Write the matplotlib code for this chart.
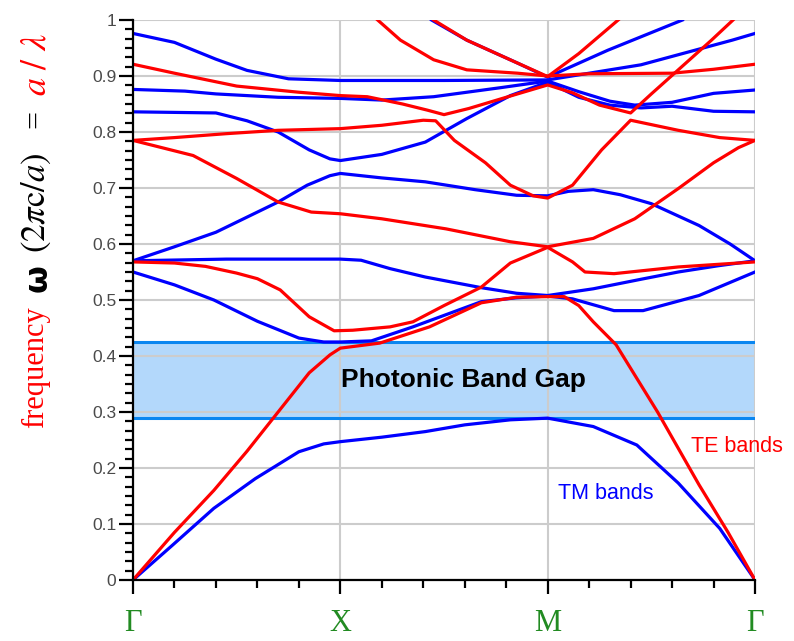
import matplotlib
matplotlib.use('Agg')
import matplotlib.pyplot as plt
from matplotlib.ticker import MultipleLocator, FuncFormatter

plt.rcParams['mathtext.fontset'] = 'stix'

# k path: Gamma = 0, X = 1, M = 2, Gamma = 3
sym_pos = [0, 1, 2, 3]
sym_labels = ['Γ', 'X', 'M', 'Γ']

# TM bands (blue)
tm1_k = [0, 0.19, 0.39, 0.59, 0.8, 0.92, 1.0, 1.2, 1.41, 1.6, 1.82, 2.0, 2.22, 2.43, 2.63, 2.83, 3.0]
tm1_w = [0, 0.062, 0.128, 0.181, 0.229, 0.243, 0.247, 0.255, 0.265, 0.277, 0.286, 0.289, 0.274, 0.241, 0.173, 0.092, 0]
tm2_k = [0, 0.2, 0.39, 0.6, 0.8, 0.92, 1.0, 1.15, 1.35, 1.68, 1.85, 2.0, 2.12, 2.32, 2.46, 2.73, 3.0]
tm2_w = [0.55, 0.527, 0.50, 0.462, 0.432, 0.425, 0.425, 0.427, 0.452, 0.497, 0.504, 0.507, 0.502, 0.481, 0.481, 0.508, 0.55]
tm3_k = [0, 0.45, 1.0, 1.1, 1.24, 1.41, 1.68, 1.85, 2.0, 2.22, 2.45, 2.63, 2.82, 3.0]
tm3_w = [0.57, 0.573, 0.573, 0.571, 0.556, 0.541, 0.522, 0.512, 0.508, 0.52, 0.537, 0.55, 0.561, 0.57]
tm4_k = [0, 0.2, 0.4, 0.55, 0.7, 0.84, 0.95, 1.0, 1.2, 1.41, 1.65, 1.85, 2.0, 2.1, 2.22, 2.35, 2.5, 2.73, 2.88, 3.0]
tm4_w = [0.57, 0.595, 0.621, 0.648, 0.675, 0.705, 0.722, 0.726, 0.718, 0.711, 0.697, 0.687, 0.686, 0.694, 0.697, 0.688, 0.672, 0.633, 0.6, 0.57]
tm5_k = [0, 0.4, 0.55, 0.7, 0.85, 0.95, 1.0, 1.2, 1.41, 1.61, 1.82, 2.0, 2.15, 2.3, 2.45, 2.6, 2.8, 3.0]
tm5_w = [0.836, 0.834, 0.82, 0.80, 0.768, 0.752, 0.749, 0.76, 0.782, 0.824, 0.865, 0.889, 0.862, 0.848, 0.843, 0.846, 0.837, 0.836]
tm6_k = [0, 0.25, 0.4, 0.7, 1.0, 1.2, 1.45, 1.77, 2.0, 2.15, 2.3, 2.42, 2.6, 2.8, 3.0]
tm6_w = [0.876, 0.873, 0.868, 0.862, 0.86, 0.857, 0.863, 0.879, 0.891, 0.872, 0.855, 0.848, 0.853, 0.869, 0.875]
tm7_k = [0, 0.2, 0.4, 0.55, 0.75, 1.0, 1.5, 2.0, 2.2, 2.45, 2.7, 2.89, 3.0]
tm7_w = [0.976, 0.96, 0.93, 0.91, 0.895, 0.892, 0.892, 0.893, 0.905, 0.92, 0.945, 0.964, 0.976]
tm8_k = [1.44, 1.61, 1.855, 2.0, 2.29, 2.65]
tm8_w = [1.0, 0.964, 0.923, 0.898, 0.946, 1.0]

# TE bands (red)
te1_k = [0, 0.2, 0.39, 0.55, 0.7, 0.85, 0.95, 1.0, 1.19, 1.43, 1.68, 1.85, 2.0, 2.08, 2.15, 2.22, 2.33, 2.53, 2.73, 2.87, 3.0]
te1_w = [0, 0.085, 0.16, 0.23, 0.30, 0.37, 0.402, 0.414, 0.423, 0.452, 0.495, 0.505, 0.506, 0.506, 0.49, 0.461, 0.42, 0.30, 0.17, 0.085, 0]
te2_k = [0, 0.2, 0.35, 0.5, 0.6, 0.71, 0.85, 0.97, 1.06, 1.24, 1.35, 1.5, 1.68, 1.82, 2.0, 2.12, 2.18, 2.32, 2.63, 3.0]
te2_w = [0.568, 0.566, 0.56, 0.548, 0.538, 0.518, 0.47, 0.445, 0.446, 0.452, 0.461, 0.49, 0.523, 0.566, 0.594, 0.568, 0.55, 0.547, 0.559, 0.568]
te3_k = [0, 0.29, 0.5, 0.7, 0.86, 1.0, 1.2, 1.51, 1.82, 2.0, 2.22, 2.42, 2.63, 2.8, 2.92, 3.0]
te3_w = [0.785, 0.758, 0.717, 0.675, 0.657, 0.654, 0.645, 0.627, 0.604, 0.595, 0.61, 0.645, 0.699, 0.745, 0.772, 0.785]
te4_k = [0, 0.2, 0.45, 0.7, 1.0, 1.2, 1.4, 1.46, 1.55, 1.7, 1.82, 1.93, 2.0, 2.12, 2.26, 2.4, 2.63, 2.83, 3.0]
te4_w = [0.785, 0.79, 0.797, 0.803, 0.806, 0.812, 0.821, 0.82, 0.785, 0.745, 0.705, 0.686, 0.682, 0.705, 0.768, 0.821, 0.803, 0.79, 0.785]
te5_k = [0, 0.2, 0.5, 0.8, 1.0, 1.13, 1.3, 1.42, 1.5, 1.62, 1.8, 2.0, 2.12, 2.25, 2.4, 2.5, 2.79, 2.894]
te5_w = [0.921, 0.905, 0.882, 0.871, 0.865, 0.863, 0.85, 0.839, 0.831, 0.842, 0.862, 0.884, 0.87, 0.848, 0.834, 0.868, 0.964, 1.0]
te6_k = [1.18, 1.29, 1.45, 1.61, 1.855, 2.0, 2.2, 2.6, 2.8, 3.0]
te6_w = [1.0, 0.964, 0.929, 0.911, 0.905, 0.9, 0.904, 0.905, 0.912, 0.921]
te7_k = [1.45, 1.61, 1.855, 2.0, 2.15, 2.34]
te7_w = [1.0, 0.964, 0.923, 0.899, 0.94, 1.0]

gap_lo, gap_hi = 0.289, 0.425

tm_bands = [(tm1_k, tm1_w), (tm2_k, tm2_w), (tm3_k, tm3_w), (tm4_k, tm4_w),
            (tm5_k, tm5_w), (tm6_k, tm6_w), (tm7_k, tm7_w), (tm8_k, tm8_w)]
te_bands = [(te1_k, te1_w), (te2_k, te2_w), (te3_k, te3_w), (te4_k, te4_w),
            (te5_k, te5_w), (te6_k, te6_w), (te7_k, te7_w)]

fig = plt.figure(figsize=(7.94, 6.41), dpi=100)
ax = fig.add_axes([0.1675, 0.0952, 0.7834, 0.8736])

# band gap
ax.axhspan(gap_lo, gap_hi, color='#b3d8fb', lw=0, zorder=0.2)
for g in (gap_lo, gap_hi):
    ax.axhline(g, color='#0a86f0', lw=2.2, zorder=1.5)

for k, w in tm_bands:
    ax.plot(k, w, color='#0000ff', lw=2.3, zorder=2, solid_joinstyle='round')
for k, w in te_bands:
    ax.plot(k, w, color='#ff0000', lw=2.3, zorder=2.1, solid_joinstyle='round')

ax.set_xlim(0, 3)
ax.set_ylim(0, 1)
ax.set_axisbelow(True)
ax.grid(True, color='#cccccc', lw=1.5)

for s in ['top', 'right']:
    ax.spines[s].set_visible(False)
for s in ['left', 'bottom']:
    ax.spines[s].set_linewidth(1.6)
    ax.spines[s].set_zorder(3)

ax.set_xticks(sym_pos)
ax.set_xticklabels(sym_labels, fontfamily='Liberation Serif', fontsize=22, color='#228b22')
ax.xaxis.set_minor_locator(MultipleLocator(0.2))
ax.yaxis.set_major_locator(MultipleLocator(0.1))
ax.yaxis.set_minor_locator(MultipleLocator(1 / 60))
ax.yaxis.set_major_formatter(FuncFormatter(lambda v, p: '%g' % round(v, 2)))
ax.tick_params(axis='both', which='major', direction='out', length=10, width=1.6)
ax.tick_params(axis='both', which='minor', direction='out', length=5.5, width=1.6)
ax.tick_params(axis='y', which='major', labelsize=12.5, labelcolor='#4a4a4a', pad=2)
ax.tick_params(axis='x', which='major', pad=11)
for t in ax.get_yticklabels():
    t.set_fontfamily('Liberation Sans')

ax.text(1.594, 0.357, 'Photonic Band Gap', ha='center', va='center',
        fontsize=19, fontweight='bold', fontfamily='Liberation Sans', color='black', zorder=4)
ax.text(2.69, 0.2375, 'TE bands', ha='left', va='center', fontsize=15.5,
        fontfamily='Liberation Sans', color='#ff0000')
ax.text(2.048, 0.155, 'TM bands', ha='left', va='center', fontsize=15.5,
        fontfamily='Liberation Sans', color='#0000ff')

# y label built from coloured pieces
lx = 36 / 794
fig.text(lx, 1 - 367 / 641, 'frequency', rotation=90, ha='center', va='center',
         fontsize=22, fontfamily='Liberation Serif', color='#ff0000')
fig.text(lx + 0.003, 1 - 278 / 641, 'ω', rotation=90, ha='center', va='center',
         fontsize=23, fontweight='bold', fontfamily='DejaVu Sans', color='black')
fig.text(lx, 1 - 203 / 641, r'$(2\pi\mathrm{c}/a)$', rotation=90, ha='center', va='center',
         fontsize=25, color='black')
fig.text(lx, 1 - 119 / 641, '=', rotation=90, ha='center', va='center',
         fontsize=23, fontfamily='Liberation Serif', color='black')
fig.text(lx, 1 - 64 / 641, r'$a\ /\ \lambda$', rotation=90, ha='center', va='center',
         fontsize=26, color='#ff0000')

fig.savefig('out.png', dpi=100)
